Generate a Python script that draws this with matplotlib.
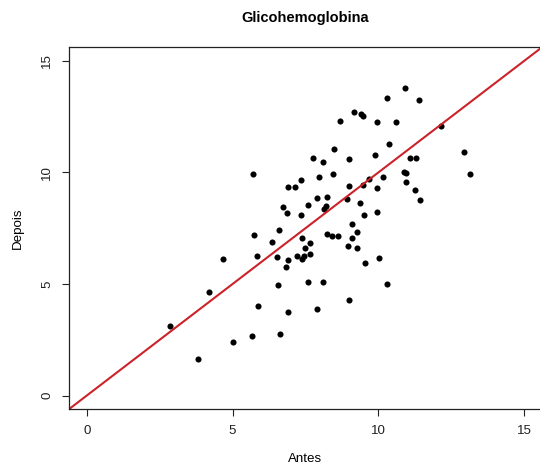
import matplotlib
matplotlib.use("Agg")
import matplotlib.pyplot as plt

plt.rcParams['font.family'] = ['Liberation Sans', 'DejaVu Sans']

# HbA1c before and after (paired observations)
antes = [8.68, 8.48, 7.76, 8.09, 5.71, 8.43, 7.95, 7.34, 6.89, 7.15,
         7.91, 8.22, 7.60, 6.74, 8.20, 8.14, 6.87, 7.34, 6.58, 5.75,
         8.24, 8.40, 8.61, 7.38, 10.92, 10.30, 11.39, 9.15, 9.40, 9.46,
         9.94, 10.61, 12.15, 10.35, 12.94, 9.87, 9.00, 11.07, 11.29, 13.13,
         10.88, 10.93, 10.93, 10.14, 9.66, 9.48, 9.96, 8.98, 11.24, 11.44,
         8.92, 9.36, 9.51, 9.94, 9.10, 9.25, 9.08, 6.35, 7.67, 7.48,
         4.66, 5.85, 6.54, 7.20, 7.44, 7.37, 7.65, 6.91, 6.83, 6.56,
         7.60, 8.09, 4.19, 5.88, 6.89, 7.91, 2.87, 5.68, 6.62, 5.00,
         3.81, 8.95, 9.26, 9.55, 10.02, 10.28, 8.98]
depois = [12.32, 11.06, 10.66, 10.48, 9.94, 9.91, 9.80, 9.67, 9.33, 9.35,
          8.85, 8.92, 8.55, 8.44, 8.50, 8.35, 8.16, 8.07, 7.40, 7.18,
          7.24, 7.14, 7.15, 7.08, 13.79, 13.34, 13.26, 12.72, 12.60, 12.53,
          12.27, 12.25, 12.08, 11.27, 10.90, 10.79, 10.58, 10.66, 10.66, 9.91,
          10.01, 9.96, 9.56, 9.80, 9.70, 9.43, 9.29, 9.38, 9.19, 8.76,
          8.79, 8.63, 8.10, 8.23, 7.69, 7.35, 7.04, 6.87, 6.84, 6.60,
          6.14, 6.24, 6.20, 6.24, 6.27, 6.12, 6.36, 6.09, 5.76, 4.94,
          5.11, 5.07, 4.64, 4.00, 3.73, 3.89, 3.14, 2.66, 2.77, 2.39,
          1.62, 6.70, 6.60, 5.96, 6.17, 5.02, 4.30]

ticks = [0, 5, 10, 15]
lims = (-0.6, 15.6)

fig = plt.figure(figsize=(5.4, 4.66), dpi=100)
# the plot box runs slightly past the right edge of the figure
ax = fig.add_axes([69.2 / 540, 57 / 466, 472.6 / 540, 361.6 / 466])

ax.plot(antes, depois, 'o', color='black', markersize=4.4, markeredgewidth=0)
ax.axline((0, 0), slope=1, color='#cc2229', linewidth=1.5)

ax.set_xlim(lims)
ax.set_ylim(lims)
ax.set_xticks(ticks)
ax.set_yticks(ticks)

fs = 9.6
ax.tick_params(direction='out', length=5, width=0.8, colors='#222222',
               labelsize=fs, pad=6.5)
ax.tick_params(axis='y', labelrotation=90)
for lbl in ax.get_yticklabels():
    lbl.set_verticalalignment('center')
for sp in ax.spines.values():
    sp.set_linewidth(0.9)
    sp.set_color('#222222')
ax.spines['right'].set_visible(False)

fig.text(305 / 540, 1 - 459 / 466, 'Antes', ha='center', va='center', fontsize=fs)
fig.text(18 / 540, 1 - 228 / 466, 'Depois', ha='center', va='center',
         rotation=90, fontsize=fs)
fig.text(305 / 540, 1 - 18 / 466, 'Glicohemoglobina', ha='center', va='center',
         fontsize=10.5, fontweight='bold')

fig.savefig('out.png', dpi=100)
